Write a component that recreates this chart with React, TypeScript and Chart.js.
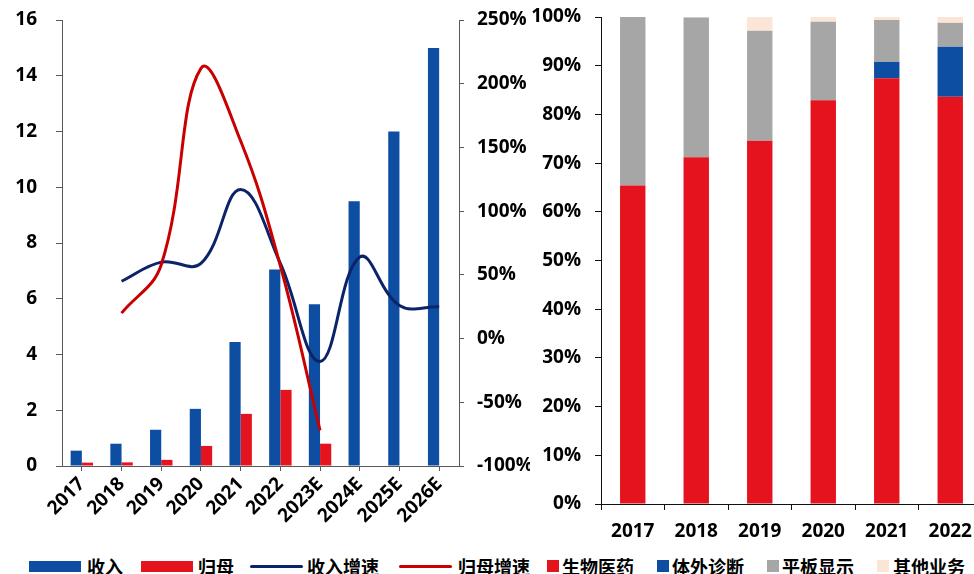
import React, { useEffect, useRef } from "react";
import { Chart, registerables } from "chart.js";

Chart.register(...registerables);

// ---------- Left chart data ----------
const years = ["2017", "2018", "2019", "2020", "2021", "2022", "2023E", "2024E", "2025E", "2026E"];
const revenue = [0.55, 0.8, 1.3, 2.05, 4.45, 7.05, 5.8, 9.5, 12.0, 15.0];
const netProfit = [0.12, 0.13, 0.22, 0.72, 1.87, 2.73, 0.8, null, null, null];
const revenueGrowth = [null, 45, 60, 59, 117, 59, -18, 64, 26, 25];
const profitGrowth = [null, 20, 58, 212, 155, 57, -72, null, null, null];

// ---------- Right chart data (share of revenue, %) ----------
const segYears = ["2017", "2018", "2019", "2020", "2021", "2022"];
const bioPharma = [65.4, 71.2, 74.6, 82.9, 87.4, 83.6];
const ivd = [0, 0, 0, 0, 3.4, 10.3];
const flatPanel = [34.6, 28.7, 22.6, 16.1, 8.6, 4.9];
const others = [0, 0.1, 2.8, 1.0, 0.6, 1.2];

const legendItems = [
  { label: "收入", kind: "bar", color: "#0D4EA2", left: 29, textLeft: 87 },
  { label: "归母", kind: "bar", color: "#E5131D", left: 141, textLeft: 198 },
  { label: "收入增速", kind: "line", color: "#0B2467", left: 250, textLeft: 307 },
  { label: "归母增速", kind: "line", color: "#C80000", left: 399, textLeft: 458 },
  { label: "生物医药", kind: "sq", color: "#E5131D", left: 547, textLeft: 562 },
  { label: "体外诊断", kind: "sq", color: "#0D4EA2", left: 657, textLeft: 672 },
  { label: "平板显示", kind: "sq", color: "#A6A6A6", left: 767, textLeft: 782 },
  { label: "其他业务", kind: "sq", color: "#FBE5D6", left: 877, textLeft: 893 },
];

const FONT = "'Open Sans', 'Noto Sans CJK SC', sans-serif";
const tickFont = { family: FONT, size: 19, weight: "bold" as const };
const AXIS_GRAY = "#595959";

const noPad = (s: any) => {
  s.paddingTop = 0;
  s.paddingBottom = 0;
};

function LeftChart() {
  const ref = useRef<HTMLCanvasElement | null>(null);
  useEffect(() => {
    if (!ref.current) return;
    const chart = new Chart(ref.current, {
      type: "bar",
      data: {
        labels: years,
        datasets: [
          {
            type: "line",
            label: "归母增速",
            data: profitGrowth,
            borderColor: "#C80000",
            backgroundColor: "#C80000",
            borderWidth: 3,
            pointRadius: 0,
            tension: 0.4,
            yAxisID: "y1",
            order: 1,
          } as any,
          {
            type: "line",
            label: "收入增速",
            data: revenueGrowth,
            borderColor: "#0B2467",
            backgroundColor: "#0B2467",
            borderWidth: 3,
            pointRadius: 0,
            tension: 0.4,
            yAxisID: "y1",
            order: 2,
          } as any,
          {
            type: "bar",
            label: "收入",
            data: revenue,
            backgroundColor: "#0D4EA2",
            yAxisID: "y",
            order: 3,
            categoryPercentage: 0.565,
            barPercentage: 1,
          } as any,
          {
            type: "bar",
            label: "归母",
            data: netProfit,
            backgroundColor: "#E5131D",
            yAxisID: "y",
            order: 3,
            categoryPercentage: 0.565,
            barPercentage: 1,
          } as any,
        ],
      },
      options: {
        animation: false,
        responsive: false,
        devicePixelRatio: 1,
        layout: { padding: { top: 20, left: 0, right: 0, bottom: 0 } },
        plugins: { legend: { display: false }, tooltip: { enabled: false } },
        scales: {
          x: {
            offset: true,
            grid: { offset: false, drawOnChartArea: false, tickLength: 5, color: AXIS_GRAY },
            border: { color: AXIS_GRAY, width: 1 },
            ticks: {
              autoSkip: false,
              minRotation: 45,
              maxRotation: 45,
              color: "#000",
              font: tickFont,
              padding: 2,
            },
            afterFit: (s: any) => {
              s.height = 79;
              s.paddingLeft = 0;
              s.paddingRight = 0;
            },
          },
          y: {
            position: "left",
            min: 0,
            max: 16,
            grid: { drawOnChartArea: false, tickLength: 6, color: AXIS_GRAY },
            border: { color: AXIS_GRAY, width: 1 },
            ticks: { stepSize: 2, color: "#000", font: tickFont, padding: 19 },
            afterFit: (s: any) => {
              s.width = 62;
              noPad(s);
            },
          },
          y1: {
            position: "right",
            min: -100,
            max: 250,
            grid: { drawOnChartArea: false, tickLength: 5, color: AXIS_GRAY },
            border: { color: AXIS_GRAY, width: 1 },
            ticks: {
              stepSize: 50,
              color: "#000",
              font: tickFont,
              padding: 13,
              callback: (v: any) => v + "%",
            },
            afterFit: (s: any) => {
              s.width = 71;
              noPad(s);
            },
          },
        },
      },
    });
    return () => chart.destroy();
  }, []);
  return (
    <canvas
      ref={ref}
      width={530}
      height={545}
      style={{ position: "absolute", left: 0, top: 0, width: 530, height: 545 }}
    />
  );
}

function RightChart() {
  const ref = useRef<HTMLCanvasElement | null>(null);
  useEffect(() => {
    if (!ref.current) return;
    const common = { categoryPercentage: 1, barPercentage: 0.4 };
    const chart = new Chart(ref.current, {
      type: "bar",
      data: {
        labels: segYears,
        datasets: [
          { label: "生物医药", data: bioPharma, backgroundColor: "#E5131D", ...common },
          { label: "体外诊断", data: ivd, backgroundColor: "#0D4EA2", ...common },
          { label: "平板显示", data: flatPanel, backgroundColor: "#A6A6A6", ...common },
          { label: "其他业务", data: others, backgroundColor: "#FBE5D6", ...common },
        ],
      },
      options: {
        animation: false,
        responsive: false,
        devicePixelRatio: 1,
        layout: { padding: { top: 17, left: 0, right: 0, bottom: 0 } },
        plugins: { legend: { display: false }, tooltip: { enabled: false } },
        scales: {
          x: {
            stacked: true,
            grid: { drawOnChartArea: false, tickLength: 6, color: "#111" },
            border: { color: "#111", width: 1 },
            ticks: { color: "#000", font: tickFont, padding: 10, minRotation: 0, maxRotation: 0 },
            afterFit: (s: any) => {
              s.height = 41;
              s.paddingLeft = 0;
              s.paddingRight = 0;
            },
          },
          y: {
            stacked: true,
            min: 0,
            max: 100,
            grid: { drawOnChartArea: false, tickLength: 6, color: "#111" },
            border: { color: "#111", width: 1 },
            ticks: {
              stepSize: 10,
              color: "#000",
              font: tickFont,
              padding: 14,
              callback: (v: any) => v + "%",
            },
            afterFit: (s: any) => {
              s.width = 71;
              noPad(s);
            },
          },
        },
      },
    });
    return () => chart.destroy();
  }, []);
  return (
    <canvas
      ref={ref}
      width={452}
      height={545}
      style={{ position: "absolute", left: 530, top: 0, width: 452, height: 545 }}
    />
  );
}

function Legend() {
  return (
    <>
      {legendItems.map((it) => {
        let mark: any;
        if (it.kind === "bar") {
          mark = { left: it.left, top: 561, width: 52, height: 11 };
        } else if (it.kind === "line") {
          mark = { left: it.left, top: 565, width: 53, height: 3, borderRadius: 2 };
        } else {
          mark = { left: it.left, top: 560, width: 12, height: 12 };
        }
        return (
          <React.Fragment key={it.label}>
            <div style={{ position: "absolute", background: it.color, ...mark }} />
            <span
              style={{
                position: "absolute",
                left: it.textLeft,
                top: 566,
                transform: "translateY(-50%)",
                fontFamily: "'Noto Sans CJK SC', sans-serif",
                fontWeight: 700,
                fontSize: 18,
                lineHeight: "20px",
                color: "#000",
                whiteSpace: "nowrap",
              }}
            >
              {it.label}
            </span>
          </React.Fragment>
        );
      })}
    </>
  );
}

export default function App() {
  return (
    <div
      style={{
        position: "fixed",
        left: 0,
        top: 0,
        width: 974,
        height: 574,
        overflow: "hidden",
        background: "#fff",
      }}
    >
      <LeftChart />
      <RightChart />
      <Legend />
    </div>
  );
}
